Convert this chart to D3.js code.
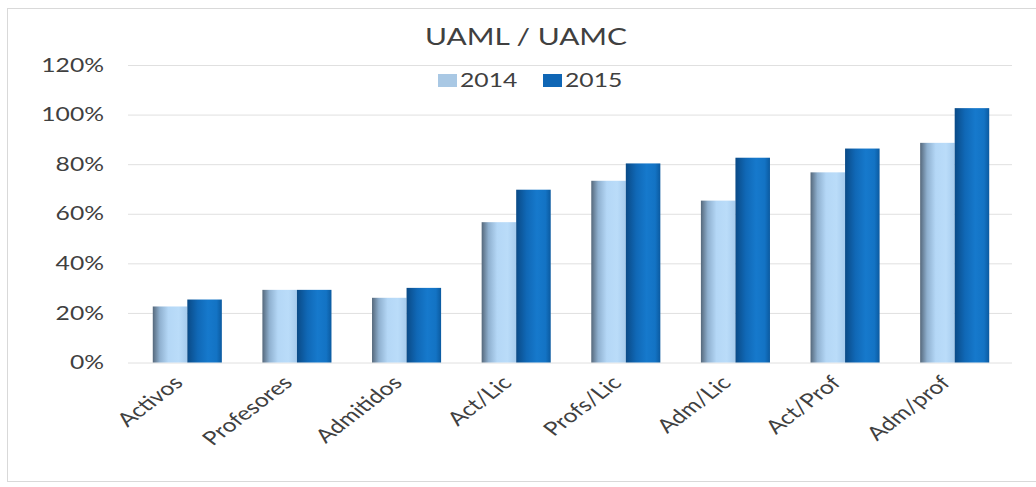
<!DOCTYPE html>
<html><head><meta charset="utf-8">
<script src="https://cdn.jsdelivr.net/npm/d3@7"></script>
<style>body{margin:0;background:#fff;} text{font-family:Lato,"Open Sans",sans-serif;fill:#404040;}</style>
</head><body><svg id="c" width="1036" height="487"></svg>
<script>
const categories = ["Activos","Profesores","Admitidos","Act/Lic","Profs/Lic","Adm/Lic","Act/Prof","Adm/prof"];
const seriesNames = ["2014","2015"];
const values2014 = [0.226,0.293,0.261,0.566,0.733,0.653,0.767,0.886];
const values2015 = [0.254,0.293,0.301,0.697,0.803,0.826,0.863,1.026];
const yTicks = [0,0.2,0.4,0.6,0.8,1.0,1.2];
const title = "UAML / UAMC";

const SX = 1.3; // horizontal stretch of the reference image
const svg = d3.select("#c");
const defs = svg.append("defs");
function grad(id, stops){
  const g = defs.append("linearGradient").attr("id",id).attr("x1","0").attr("x2","1").attr("y1","0").attr("y2","0");
  stops.forEach(s=>g.append("stop").attr("offset",s[0]).attr("stop-color",s[1]));
}
grad("g14",[[0,"#55687b"],[0.2,"#8fb0cf"],[0.45,"#b4d7f6"],[0.75,"#badcf9"],[1,"#a6cbed"]]);
grad("g15",[[0,"#0a4a86"],[0.3,"#1068b6"],[0.6,"#1679cc"],[0.85,"#1373c4"],[1,"#0b5aa0"]]);
const fills = ["url(#g14)","url(#g15)"];
const legendFills = ["#a9c8e4","#0f66b5"];

svg.append("rect").attr("x",7.5).attr("y",8.5).attr("width",1040).attr("height",473).attr("fill","#fff").attr("stroke","#d9d9d9");

const x = d3.scaleBand().domain(categories).range([128,1014]).paddingInner(0.37).paddingOuter(0.226);
const xs = d3.scaleBand().domain(seriesNames).range([0,x.bandwidth()]);
const y = d3.scaleLinear().domain([0,1.2]).range([362.5,65]);

// gridlines + y labels
const ga = svg.append("g").attr("transform","translate(128,0)")
  .call(d3.axisLeft(y).tickValues(yTicks).tickSize(-884).tickFormat(d3.format(".0%")).tickPadding(24));
ga.select(".domain").remove();
ga.selectAll(".tick line").attr("stroke","#e0e0e0");
ga.selectAll(".tick text").attr("font-size",19).attr("fill","#404040");
ga.selectAll(".tick text").each(function(){
  const t=d3.select(this); const xx=+t.attr("x");
  t.attr("x",null).attr("transform",`translate(${xx},0) scale(${SX},1)`);
});

// bars
const data = categories.map((c,i)=>({c, v:[values2014[i],values2015[i]]}));
const grp = svg.append("g").selectAll("g").data(data).join("g").attr("transform",d=>`translate(${x(d.c)},0)`);
grp.selectAll("rect").data(d=>d.v.map((v,j)=>({v,s:seriesNames[j],j}))).join("rect")
  .attr("x",d=>xs(d.s)).attr("width",xs.bandwidth())
  .attr("y",d=>y(d.v)).attr("height",d=>y(0)-y(d.v)).attr("fill",d=>fills[d.j]);

// x labels
svg.append("g").selectAll("text").data(categories).join("text")
  .attr("transform",d=>`translate(${x(d)+x.bandwidth()/2-3},384) scale(${SX},1) rotate(-45)`)
  .attr("text-anchor","end").attr("font-size",19).text(d=>d);

// title
svg.append("text").attr("transform",`translate(526,45) scale(${SX},1)`).attr("text-anchor","middle")
  .attr("font-size",23).attr("fill","#404040").text(title);

// legend
const lx=[438,543];
seriesNames.forEach((s,i)=>{
  svg.append("rect").attr("x",lx[i]).attr("y",74).attr("width",19).attr("height",13).attr("fill",legendFills[i]);
  svg.append("text").attr("transform",`translate(${lx[i]+22},87) scale(${SX},1)`).attr("font-size",19).text(s);
});
</script></body></html>
